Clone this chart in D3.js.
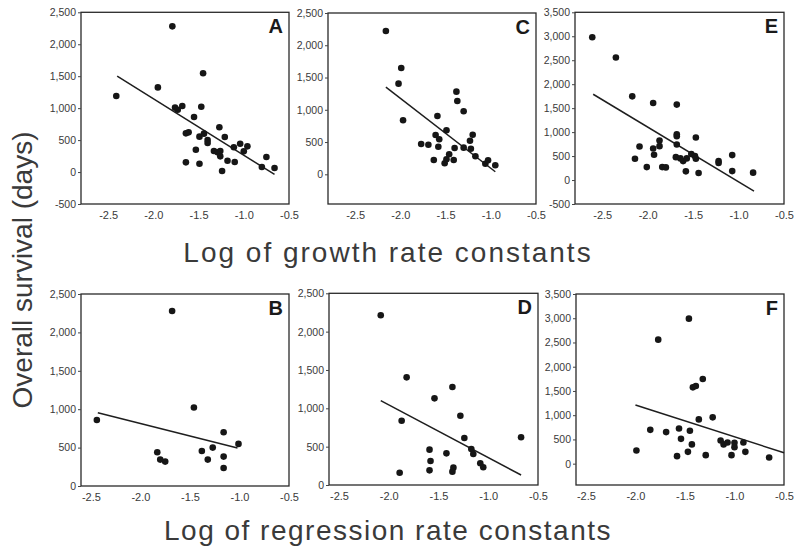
<!DOCTYPE html>
<html>
<head>
<meta charset="utf-8">
<script src="https://cdn.jsdelivr.net/npm/d3@7"></script>
<style>
  html, body { margin: 0; padding: 0; background: #fff; }
  svg { display: block; }
  text { font-family: "Liberation Sans", Arial, Helvetica, sans-serif; }
</style>
</head>
<body>
<svg id="chart" width="800" height="552"></svg>
<script>
// ---------------- DATA ----------------
const panelLetters = ["A", "C", "E", "B", "D", "F"];

const xTicksTop = [-2.5, -2.0, -1.5, -1.0, -0.5];
const xTicksBottom = [-2.5, -2.0, -1.5, -1.0, -0.5];
const yTicksA = [-500, 0, 500, 1000, 1500, 2000, 2500];
const yTicksC = [0, 500, 1000, 1500, 2000, 2500];
const yTicksE = [-500, 0, 500, 1000, 1500, 2000, 2500, 3000, 3500];
const yTicksB = [0, 500, 1000, 1500, 2000, 2500];
const yTicksD = [0, 500, 1000, 1500, 2000, 2500];
const yTicksF = [0, 500, 1000, 1500, 2000, 2500, 3000, 3500];

// Panel A: log growth rate vs survival
const xA = [-2.41,-1.79,-1.95,-1.45,-1.76,-1.73,-1.68,-1.47,-1.55,-1.64,-1.61,-1.49,-1.44,-1.40,-1.40,-1.27,-1.21,-1.53,-1.33,-1.29,-1.26,-1.26,-1.64,-1.49,-1.24,-1.18,-1.11,-1.10,-1.04,-1.00,-0.96,-0.80,-0.75,-0.66];
const yA = [1190,2280,1325,1545,1008,976,1033,1023,861,606,621,554,601,500,454,700,548,350,329,308,329,246,152,131,16,178,387,157,444,324,402,78,235,63];
const fitA = [[-2.40, 1500], [-0.66, -36]];

// Panel C
const xC = [-2.16,-1.99,-2.02,-1.97,-1.59,-1.38,-1.37,-1.30,-1.61,-1.57,-1.58,-1.77,-1.69,-1.49,-1.63,-1.51,-1.49,-1.46,-1.41,-1.40,-1.30,-1.23,-1.20,-1.22,-1.17,-1.06,-1.03,-0.95];
const yC = [2220,1648,1405,837,904,1281,1136,977,609,543,428,470,459,682,222,171,233,310,222,408,413,521,614,397,279,164,217,140];
const fitC = [[-2.16, 1350], [-0.95, 40]];

// Panel E
const xE = [-2.61,-2.35,-2.17,-1.94,-1.68,-1.68,-1.68,-1.47,-1.87,-1.87,-2.09,-1.94,-1.68,-2.14,-1.93,-2.01,-1.84,-1.80,-1.69,-1.64,-1.61,-1.57,-1.52,-1.48,-1.47,-1.58,-1.44,-1.22,-1.22,-1.07,-1.07,-0.84];
const yE = [2980,2557,1746,1609,1574,956,915,888,825,707,700,659,742,445,528,270,270,264,478,451,395,451,541,499,445,181,146,395,355,520,187,154];
const fitE = [[-2.60, 1790], [-0.83, -230]];

// Panel B: log regression rate vs survival
const xB = [-2.44,-1.68,-1.46,-1.83,-1.80,-1.75,-1.38,-1.32,-1.27,-1.16,-1.16,-1.16,-1.01];
const yB = [860,2278,1022,439,344,318,456,344,500,700,383,235,548];
const fitB = [[-2.43, 955], [-1.02, 495]];

// Panel D
const xD = [-2.08,-1.82,-1.87,-1.89,-1.36,-1.54,-1.28,-1.24,-1.59,-1.58,-1.59,-1.42,-1.35,-1.36,-1.17,-1.15,-1.08,-1.05,-0.67];
const yD = [2213,1404,838,160,1278,1130,904,613,461,313,191,413,226,174,469,404,283,231,622];
const fitD = [[-2.08, 1100], [-0.67, 130]];

// Panel F
const xF = [-1.46,-1.77,-1.32,-1.42,-1.39,-1.22,-1.36,-1.85,-1.69,-1.56,-1.45,-1.54,-1.43,-1.99,-1.58,-1.47,-1.29,-1.14,-1.11,-1.07,-1.00,-1.00,-1.03,-0.91,-0.89,-0.65];
const yF = [2992,2558,1746,1574,1601,955,913,698,651,727,678,512,397,273,155,244,176,479,397,438,430,341,176,438,244,128];
const fitF = [[-2.00, 1210], [-0.50, 225]];

const xTitleTop = "Log of growth rate constants";
const xTitleBottom = "Log of regression rate constants";
const yTitle = "Overall survival (days)";

// ---------------- LAYOUT ----------------
const panels = [
  {letter: panelLetters[0], xs: xA, ys: yA, fit: fitA, yTicks: yTicksA, xTicks: xTicksTop, xDom: [-2.8, -0.5], yDom: [-500, 2500], box: [81, 12.3, 289, 204]},
  {letter: panelLetters[1], xs: xC, ys: yC, fit: fitC, yTicks: yTicksC, xTicks: xTicksTop, xDom: [-2.8, -0.5], yDom: [-460, 2500], box: [328, 13, 536, 204]},
  {letter: panelLetters[2], xs: xE, ys: yE, fit: fitE, yTicks: yTicksE, xTicks: xTicksTop, xDom: [-2.8, -0.5], yDom: [-500, 3500], box: [575, 12.3, 784, 204]},
  {letter: panelLetters[3], xs: xB, ys: yB, fit: fitB, yTicks: yTicksB, xTicks: xTicksBottom, xDom: [-2.6, -0.5], yDom: [0, 2500], box: [81, 294, 289, 486]},
  {letter: panelLetters[4], xs: xD, ys: yD, fit: fitD, yTicks: yTicksD, xTicks: xTicksBottom, xDom: [-2.6, -0.5], yDom: [0, 2500], box: [329, 293.3, 538, 485]},
  {letter: panelLetters[5], xs: xF, ys: yF, fit: fitF, yTicks: yTicksF, xTicks: xTicksBottom, xDom: [-2.6, -0.5], yDom: [-440, 3500], box: [576, 294, 784, 485]}
];

const loc = d3.formatLocale({decimal: ".", thousands: ",", grouping: [3], currency: ["", ""], minus: "-"});
const fmtY = loc.format(",");
const fmtX = loc.format(".1f");

const svg = d3.select("#chart");
const textColor = "#3a3a3a";

panels.forEach(p => {
  const [x0, y0, x1, y1] = p.box;
  const x = d3.scaleLinear().domain(p.xDom).range([x0, x1]);
  const y = d3.scaleLinear().domain(p.yDom).range([y1, y0]);
  const g = svg.append("g");

  // frame
  g.append("rect")
    .attr("x", x0).attr("y", y0)
    .attr("width", x1 - x0).attr("height", y1 - y0)
    .attr("fill", "none").attr("stroke", "#2a2a2a").attr("stroke-width", 1.3);

  // y axis
  const yAxis = d3.axisLeft(y).tickValues(p.yTicks).tickFormat(fmtY).tickSize(3).tickPadding(2);
  const ya = g.append("g").attr("transform", `translate(${x0},0)`).call(yAxis);
  ya.select(".domain").remove();
  ya.selectAll("line").attr("stroke", "#444");
  ya.selectAll("text").attr("fill", textColor).style("font-size", "10.5px")
    .style("font-family", "'Liberation Sans', Arial, sans-serif");

  // x axis
  const xAxis = d3.axisBottom(x).tickValues(p.xTicks).tickFormat(fmtX).tickSize(0).tickPadding(7);
  const xa = g.append("g").attr("transform", `translate(0,${y1})`).call(xAxis);
  xa.select(".domain").remove();
  xa.selectAll("text").attr("fill", textColor).style("font-size", "11px")
    .style("font-family", "'Liberation Sans', Arial, sans-serif");

  // fit line
  g.append("line")
    .attr("x1", x(p.fit[0][0])).attr("y1", y(p.fit[0][1]))
    .attr("x2", x(p.fit[1][0])).attr("y2", y(p.fit[1][1]))
    .attr("stroke", "#1e1e1e").attr("stroke-width", 1.5);

  // points
  g.selectAll("circle.pt")
    .data(p.xs.map((v, i) => [v, p.ys[i]]))
    .enter().append("circle")
    .attr("class", "pt")
    .attr("cx", d => x(d[0])).attr("cy", d => y(d[1]))
    .attr("r", 3.3)
    .attr("fill", "#161616");

  // panel letter
  g.append("text")
    .attr("x", x1 - 6).attr("y", y0 + 21)
    .attr("text-anchor", "end")
    .attr("fill", "#1a1a1a")
    .style("font-size", "20px").style("font-weight", "bold")
    .text(p.letter);
});

// axis titles
svg.append("text")
  .attr("x", 388).attr("y", 262)
  .attr("text-anchor", "middle")
  .attr("fill", textColor)
  .style("font-size", "28px")
  .style("letter-spacing", "2px")
  .text(xTitleTop);

svg.append("text")
  .attr("x", 388).attr("y", 540)
  .attr("text-anchor", "middle")
  .attr("fill", textColor)
  .style("font-size", "28px")
  .style("letter-spacing", "1.5px")
  .text(xTitleBottom);

svg.append("text")
  .attr("transform", "translate(32,270) rotate(-90)")
  .attr("text-anchor", "middle")
  .attr("fill", textColor)
  .style("font-size", "28px")
  .text(yTitle);
</script>
</body>
</html>
